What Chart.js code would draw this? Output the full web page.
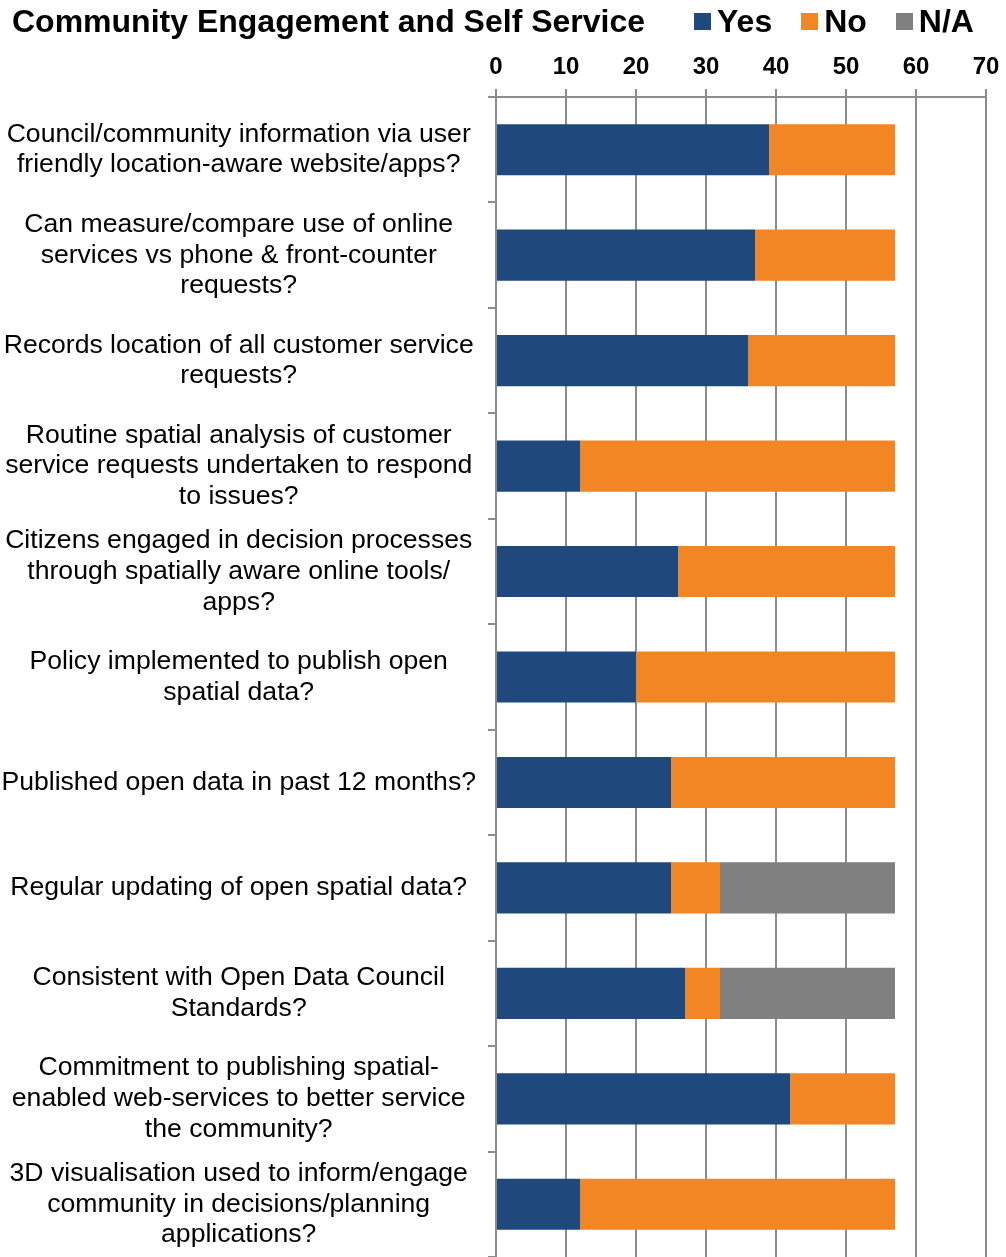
<!DOCTYPE html>
<html>
<head>
<meta charset="utf-8">
<script src="https://cdn.jsdelivr.net/npm/chart.js@4/dist/chart.umd.min.js"></script>
<style>
  html, body { margin: 0; padding: 0; background: #fff; }
  #wrap { position: relative; width: 1006px; height: 1257px; overflow: hidden; }
  #title { position: absolute; left: 12px; top: 3px; font: bold 32px "Liberation Sans", Arial, sans-serif; color: #000; white-space: nowrap; }
  #legend { position: absolute; left: 694px; top: 3px; display: flex; font: bold 32px "Liberation Sans", Arial, sans-serif; color: #000; white-space: nowrap; }
  .item { display: flex; align-items: center; margin-right: 29px; }
  .sw { width: 17px; height: 17px; margin-right: 6px; }
  canvas { position: absolute; left: 0; top: 0; }
</style>
</head>
<body>
<div id="wrap">
  <canvas id="c" width="1006" height="1257"></canvas>
  <div id="title">Community Engagement and Self Service</div>
  <div id="legend"></div>
</div>
<script>
const categories = [
  ["Council/community information via user", "friendly location-aware website/apps?"],
  ["Can measure/compare use of online", "services vs phone & front-counter", "requests?"],
  ["Records location of all customer service", "requests?"],
  ["Routine spatial analysis of customer", "service requests undertaken to respond", "to issues?"],
  ["Citizens engaged in decision processes", "through spatially aware online tools/", "apps?"],
  ["Policy implemented to publish open", "spatial data?"],
  ["Published open data in past 12 months?"],
  ["Regular updating of open spatial data?"],
  ["Consistent with Open Data Council", "Standards?"],
  ["Commitment to publishing spatial-", "enabled web-services to better service", "the community?"],
  ["3D visualisation used to inform/engage", "community in decisions/planning", "applications?"]
];
const seriesNames = ["Yes", "No", "N/A"];
const yesValues = [39, 37, 36, 12, 26, 20, 25, 25, 27, 42, 12];
const noValues  = [18, 20, 21, 45, 31, 37, 32, 7, 5, 15, 45];
const naValues  = [0, 0, 0, 0, 0, 0, 0, 25, 25, 0, 0];
const xTicks = [0, 10, 20, 30, 40, 50, 60, 70];
const colors = ["#1f497d", "#f28524", "#808080"];

Chart.defaults.font.family = '"Liberation Sans", Arial, sans-serif';
Chart.defaults.color = '#000';

const legendEl = document.getElementById('legend');
seriesNames.forEach((n, i) => {
  const it = document.createElement('div');
  it.className = 'item';
  const sw = document.createElement('span');
  sw.className = 'sw';
  sw.style.background = colors[i];
  const t = document.createElement('span');
  t.textContent = n;
  it.appendChild(sw); it.appendChild(t);
  legendEl.appendChild(it);
});

const gridColor = '#8c8c8c';
new Chart(document.getElementById('c'), {
  type: 'bar',
  data: {
    labels: categories,
    datasets: [
      { label: seriesNames[0], data: yesValues, backgroundColor: colors[0] },
      { label: seriesNames[1], data: noValues, backgroundColor: colors[1] },
      { label: seriesNames[2], data: naValues, backgroundColor: colors[2] }
    ]
  },
  options: {
    indexAxis: 'y',
    responsive: false,
    animation: false,
    layout: { padding: { top: 40, right: 20, bottom: 0, left: 0 } },
    datasets: { bar: { categoryPercentage: 1, barPercentage: 0.485 } },
    plugins: { legend: { display: false }, tooltip: { enabled: false }, title: { display: false } },
    scales: {
      x: {
        position: 'top',
        stacked: true,
        min: xTicks[0],
        max: xTicks[xTicks.length - 1],
        afterBuildTicks: (s) => { s.ticks = xTicks.map(v => ({ value: v })); },
        afterFit: (s) => { s.height = 57; s.paddingLeft = 0; s.paddingRight = 0; },
        ticks: { font: { size: 24, weight: 'bold' }, color: '#000', padding: 7 },
        grid: { color: gridColor, lineWidth: 2, tickLength: 8, drawTicks: true },
        border: { display: true, color: gridColor, width: 2 }
      },
      y: {
        stacked: true,
        afterFit: (s) => { s.width = 496; s.paddingTop = 0; s.paddingBottom = 0; },
        ticks: { font: { size: 26.6, lineHeight: 1.16 }, color: '#000', crossAlign: 'center', padding: 12, autoSkip: false },
        grid: { offset: true, drawOnChartArea: false, color: gridColor, lineWidth: 2, tickLength: 8 },
        border: { display: true, color: gridColor, width: 2 }
      }
    }
  }
});
</script>
</body>
</html>
